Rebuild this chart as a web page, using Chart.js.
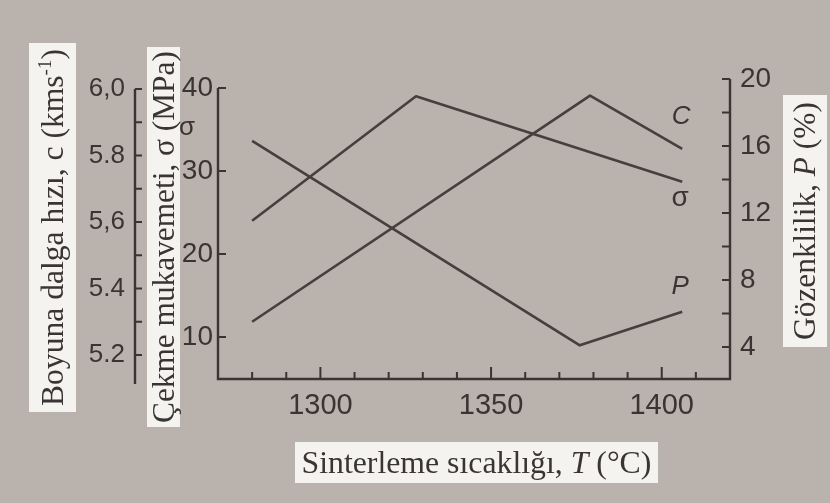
<!DOCTYPE html>
<html>
<head>
<meta charset="utf-8">
<script src="https://cdn.jsdelivr.net/npm/chart.js@4/dist/chart.umd.min.js"></script>
<style>
    html, body { margin: 0; padding: 0; background: #b9b2ad; }
    #wrap { width: 830px; height: 503px; }
</style>
</head>
<body>
<div id="wrap"><canvas id="sinterChart" width="830" height="503"></canvas></div>
<script>
// Sintering temperature (°C) for each curve
const porosityTemps = [1280, 1376, 1406];
const porosityValues = [16.3, 4.1, 6.1];          // P (%)
const strengthTemps = [1280, 1328, 1406];
const strengthValues = [24.0, 39.0, 28.7];        // σ (MPa)
const velocityTemps = [1280, 1379, 1406];
const velocityValues = [5.30, 5.98, 5.82];        // c (km/s)

// Axis ticks and labels
const tempTicks = [1300, 1350, 1400];
const tempMinorTicks = [1280, 1290, 1300, 1310, 1320, 1330, 1340, 1350, 1360, 1370, 1380, 1390, 1400, 1410];
const velocityTicks = [5.2, 5.4, 5.6, 5.8, 6.0];
const velocityTickLabels = ['5.2', '5.4', '5,6', '5.8', '6,0'];
const velocityMinorTicks = [5.2, 5.3, 5.4, 5.5, 5.6, 5.7, 5.8, 5.9, 6.0];
const strengthTicks = [10, 20, 30, 40];
const porosityTicks = [4, 8, 12, 16, 20];
const porosityMinorTicks = [4, 6, 8, 10, 12, 14, 16, 18, 20];

const ink = '#3a3532';
const lineInk = '#45403d';
const sansFont = '"Liberation Sans", Arial, sans-serif';
const serifFont = '"Liberation Serif", "Times New Roman", serif';

const toPoints = (xs, ys) => xs.map((x, i) => ({ x: x, y: ys[i] }));

// draw a row of text pieces (mixed fonts), centred, optionally rotated, on a white box
function drawTitle(ctx, runs, cx, cy, angle, boxLen, boxThick, targetLen) {
    ctx.save();
    ctx.translate(cx, cy);
    ctx.rotate(angle);
    ctx.fillStyle = '#f5f3f0';
    ctx.fillRect(-boxLen / 2, -boxThick / 2, boxLen, boxThick);

    // scale font so the title has the same length as in the figure
    let total = 0;
    runs.forEach(r => {
        ctx.font = `${r.style || ''} ${r.rel * 100}px ${serifFont}`;
        total += ctx.measureText(r.text).width;
    });
    const size = 100 * targetLen / total;
    let x = -targetLen / 2;
    ctx.fillStyle = ink;
    ctx.textAlign = 'left';
    ctx.textBaseline = 'alphabetic';
    runs.forEach(r => {
        ctx.font = `${r.style || ''} ${r.rel * size}px ${serifFont}`;
        ctx.fillText(r.text, x, size * 0.33 + (r.dy || 0) * size);
        x += ctx.measureText(r.text).width;
    });
    ctx.restore();
}

const decorPlugin = {
    id: 'decor',
    beforeDraw(chart) {
        const ctx = chart.ctx;
        ctx.save();
        ctx.fillStyle = '#b9b2ad';
        ctx.fillRect(0, 0, chart.width, chart.height);
        ctx.restore();
    },
    afterDraw(chart) {
        const ctx = chart.ctx;
        const area = chart.chartArea;
        const sx = chart.scales.x;
        const sc = chart.scales.yC;
        const ss = chart.scales.yS;
        const sp = chart.scales.yP;

        ctx.save();
        ctx.strokeStyle = ink;
        ctx.lineWidth = 2.4;
        ctx.lineCap = 'butt';

        // frame: bottom, strength axis, porosity axis
        ctx.beginPath();
        ctx.moveTo(area.left, ss.getPixelForValue(40));
        ctx.lineTo(area.left, area.bottom);
        ctx.lineTo(area.right, area.bottom);
        ctx.lineTo(area.right, sp.getPixelForValue(20));
        ctx.stroke();

        // velocity axis, standing apart on the left
        const cx = sc.right;
        ctx.beginPath();
        ctx.moveTo(cx, sc.getPixelForValue(6.0));
        ctx.lineTo(cx, area.bottom + 5);
        ctx.stroke();

        ctx.lineWidth = 2;
        ctx.beginPath();
        // temperature ticks pointing up
        tempMinorTicks.forEach(v => {
            const px = sx.getPixelForValue(v);
            const len = tempTicks.includes(v) ? 12 : 7;
            ctx.moveTo(px, area.bottom);
            ctx.lineTo(px, area.bottom - len);
        });
        // velocity ticks pointing right
        velocityMinorTicks.forEach(v => {
            const py = sc.getPixelForValue(v);
            ctx.moveTo(cx, py);
            ctx.lineTo(cx + 7, py);
        });
        // strength ticks pointing right
        strengthTicks.forEach(v => {
            const py = ss.getPixelForValue(v);
            ctx.moveTo(area.left, py);
            ctx.lineTo(area.left + 8, py);
        });
        // porosity ticks pointing left
        porosityMinorTicks.forEach(v => {
            const py = sp.getPixelForValue(v);
            ctx.moveTo(area.right, py);
            ctx.lineTo(area.right - 8, py);
        });
        ctx.stroke();

        // curve labels next to the curve ends
        const last = i => {
            const pts = chart.getDatasetMeta(i).data;
            return pts[pts.length - 1];
        };
        ctx.fillStyle = ink;
        ctx.textAlign = 'center';
        ctx.textBaseline = 'middle';
        ctx.font = `italic 26px ${sansFont}`;
        const pEnd = last(0);
        ctx.fillText('P', pEnd.x - 2, pEnd.y - 25);
        const cEnd = last(2);
        ctx.fillText('C', cEnd.x - 1, cEnd.y - 32);
        ctx.font = `28px ${sansFont}`;
        const sEnd = last(1);
        ctx.fillText('σ', sEnd.x - 2, sEnd.y + 17);
        ctx.font = `26px ${sansFont}`;
        ctx.fillText('σ', area.left - 31, ss.getPixelForValue(35.2));

        // axis titles in white boxes
        const up = -Math.PI / 2;
        drawTitle(ctx, [
            { text: 'Boyuna dalga hızı, c (kms', rel: 1 },
            { text: '-1', rel: 0.6, dy: -0.38 },
            { text: ')', rel: 1 }
        ], 52.5, 227.5, up, 369, 47, 357);
        drawTitle(ctx, [
            { text: 'Çekme mukavemeti, σ (MPa)', rel: 1 }
        ], 163.5, 237, up, 380, 33, 372);
        drawTitle(ctx, [
            { text: 'Gözenklilik, ', rel: 1 },
            { text: 'P', rel: 1, style: 'italic' },
            { text: ' (%)', rel: 1 }
        ], 805, 221, up, 252, 44, 238);
        drawTitle(ctx, [
            { text: 'Sinterleme sıcaklığı, ', rel: 1 },
            { text: 'T', rel: 1, style: 'italic' },
            { text: ' (°C)', rel: 1 }
        ], 476.5, 462.5, 0, 363, 41, 350);
        ctx.restore();
    }
};

const ctx = document.getElementById('sinterChart').getContext('2d');

const lineStyle = {
    borderColor: lineInk,
    borderWidth: 2.6,
    pointRadius: 0,
    fill: false,
    tension: 0,
    borderJoinStyle: 'round'
};

const tickFont = size => ({ family: sansFont, size: size });

const sinterChart = new Chart(ctx, {
    type: 'line',
    data: {
        datasets: [
            { label: 'P', data: toPoints(porosityTemps, porosityValues), yAxisID: 'yP', ...lineStyle },
            { label: 'σ', data: toPoints(strengthTemps, strengthValues), yAxisID: 'yS', ...lineStyle },
            { label: 'C', data: toPoints(velocityTemps, velocityValues), yAxisID: 'yC', ...lineStyle }
        ]
    },
    options: {
        responsive: false,
        animation: false,
        layout: { padding: { top: 79, left: 0, right: 0, bottom: 0 } },
        plugins: {
            legend: { display: false },
            tooltip: { enabled: false }
        },
        scales: {
            x: {
                type: 'linear',
                position: 'bottom',
                min: 1270,
                max: 1420,
                grid: { display: false, drawTicks: false },
                border: { display: false },
                ticks: {
                    font: tickFont(29), color: ink, padding: 10, maxRotation: 0, autoSkip: false,
                    callback: v => String(v)
                },
                afterBuildTicks: ax => { ax.ticks = tempTicks.map(v => ({ value: v })); },
                afterFit: ax => { ax.height = 124; }
            },
            yC: {
                type: 'linear',
                position: 'left',
                weight: 1,
                min: 5.128,
                max: 6.03,
                grid: { display: false, drawTicks: false },
                border: { display: false },
                ticks: {
                    font: tickFont(26), color: ink, padding: 10,
                    callback: v => velocityTickLabels[velocityTicks.indexOf(v)]
                },
                afterBuildTicks: ax => { ax.ticks = velocityTicks.map(v => ({ value: v })); },
                afterFit: ax => { ax.width = 135; }
            },
            yS: {
                type: 'linear',
                position: 'left',
                weight: 0,
                min: 4.94,
                max: 41.08,
                grid: { display: false, drawTicks: false },
                border: { display: false },
                ticks: { font: tickFont(28), color: ink, padding: 5 },
                afterBuildTicks: ax => { ax.ticks = strengthTicks.map(v => ({ value: v })); },
                afterFit: ax => { ax.width = 83; }
            },
            yP: {
                type: 'linear',
                position: 'right',
                min: 2.09,
                max: 20,
                grid: { display: false, drawTicks: false },
                border: { display: false },
                ticks: { font: tickFont(28), color: ink, padding: 10 },
                afterBuildTicks: ax => { ax.ticks = porosityTicks.map(v => ({ value: v })); },
                afterFit: ax => { ax.width = 100; }
            }
        }
    },
    plugins: [decorPlugin]
});
</script>
</body>
</html>
